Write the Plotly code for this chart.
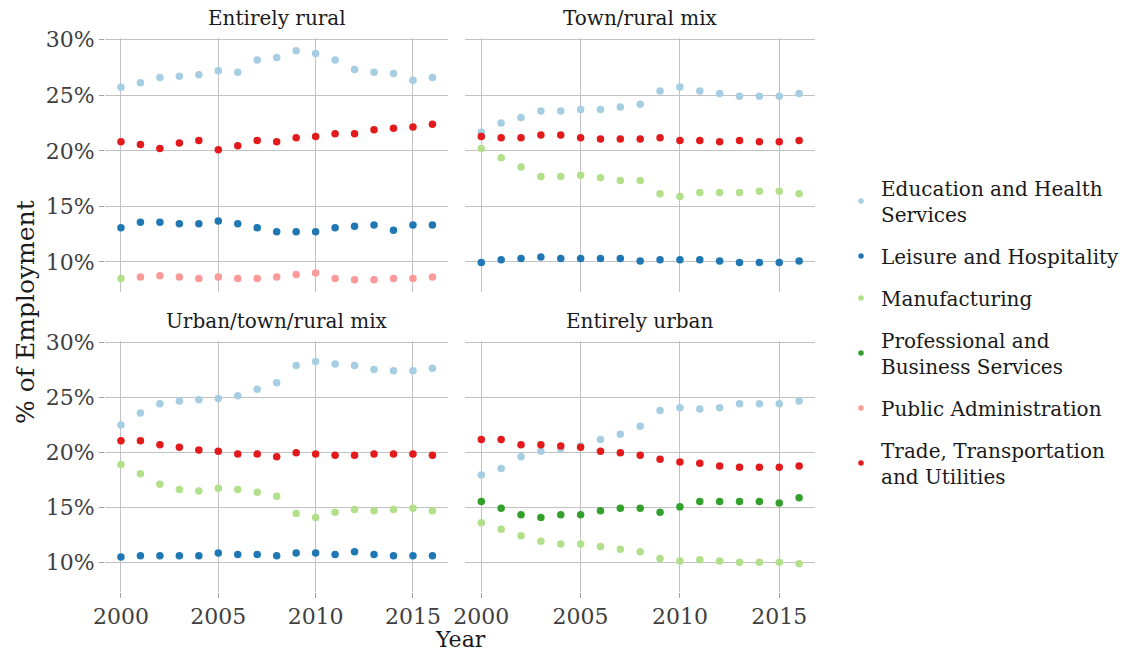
import plotly.graph_objects as go

years = list(range(2000, 2017))

# Share of employment (%) by industry and county type
rural_edu = [25.72, 26.12, 26.60, 26.72, 26.84, 27.20, 27.08, 28.16, 28.40, 29.00, 28.76, 28.16, 27.32, 27.08, 26.96, 26.36, 26.60]
rural_leisure = [13.09, 13.57, 13.57, 13.45, 13.45, 13.69, 13.45, 13.09, 12.73, 12.73, 12.73, 13.09, 13.21, 13.33, 12.85, 13.33, 13.33]
rural_manuf = [8.52] + [None] * 16
rural_public = [None, 8.64, 8.76, 8.64, 8.52, 8.64, 8.52, 8.52, 8.64, 8.88, 9.00, 8.52, 8.40, 8.40, 8.52, 8.52, 8.64]
rural_trade = [20.82, 20.58, 20.22, 20.70, 20.94, 20.10, 20.46, 20.94, 20.82, 21.18, 21.30, 21.54, 21.54, 21.90, 22.02, 22.14, 22.38]

town_edu = [21.66, 22.51, 22.99, 23.59, 23.59, 23.71, 23.71, 23.95, 24.19, 25.39, 25.75, 25.39, 25.15, 24.91, 24.91, 24.91, 25.15]
town_leisure = [9.96, 10.20, 10.32, 10.44, 10.32, 10.32, 10.32, 10.32, 10.08, 10.20, 10.20, 10.20, 10.08, 9.96, 9.96, 9.96, 10.08]
town_manuf = [20.22, 19.38, 18.54, 17.69, 17.69, 17.81, 17.57, 17.33, 17.33, 16.13, 15.89, 16.25, 16.25, 16.25, 16.37, 16.37, 16.13]
town_trade = [21.30, 21.18, 21.18, 21.42, 21.42, 21.18, 21.06, 21.06, 21.06, 21.18, 20.94, 20.94, 20.82, 20.94, 20.82, 20.82, 20.94]

mix_edu = [22.51, 23.59, 24.44, 24.68, 24.80, 24.92, 25.16, 25.76, 26.36, 27.92, 28.29, 28.05, 27.92, 27.56, 27.44, 27.44, 27.68]
mix_leisure = [10.48, 10.60, 10.60, 10.60, 10.60, 10.84, 10.72, 10.72, 10.60, 10.84, 10.84, 10.72, 10.96, 10.72, 10.60, 10.60, 10.60]
mix_manuf = [18.90, 18.06, 17.10, 16.62, 16.50, 16.74, 16.62, 16.38, 16.02, 14.45, 14.09, 14.57, 14.81, 14.69, 14.81, 14.93, 14.69]
mix_trade = [21.07, 21.07, 20.71, 20.47, 20.23, 20.11, 19.86, 19.86, 19.62, 19.98, 19.86, 19.74, 19.74, 19.86, 19.86, 19.86, 19.74]

urban_edu = [17.94, 18.54, 19.62, 20.11, 20.35, 20.59, 21.19, 21.67, 22.39, 23.83, 24.08, 23.95, 24.08, 24.44, 24.44, 24.44, 24.68]
urban_manuf = [13.61, 13.01, 12.41, 11.92, 11.68, 11.68, 11.44, 11.20, 10.96, 10.36, 10.12, 10.24, 10.12, 10.00, 10.00, 10.00, 9.88]
urban_prof = [15.53, 14.93, 14.33, 14.09, 14.33, 14.33, 14.69, 14.93, 14.93, 14.57, 15.05, 15.53, 15.53, 15.53, 15.53, 15.41, 15.89]
urban_trade = [21.19, 21.19, 20.71, 20.71, 20.59, 20.47, 20.11, 19.98, 19.74, 19.38, 19.14, 19.02, 18.78, 18.66, 18.66, 18.66, 18.78]

panel_titles = ["Entirely rural", "Town/rural mix", "Urban/town/rural mix", "Entirely urban"]
x_ticks = [2000, 2005, 2010, 2015]
y_ticks = [10, 15, 20, 25, 30]
y_tick_labels = ["10%", "15%", "20%", "25%", "30%"]

industries = [
    ("Education and Health<br>Services", "#a6cee3", [rural_edu, town_edu, mix_edu, urban_edu]),
    ("Leisure and Hospitality", "#1f78b4", [rural_leisure, town_leisure, mix_leisure, None]),
    ("Manufacturing", "#b2df8a", [rural_manuf, town_manuf, mix_manuf, urban_manuf]),
    ("Professional and<br>Business Services", "#33a02c", [None, None, None, urban_prof]),
    ("Public Administration", "#fb9a99", [rural_public, None, None, None]),
    ("Trade, Transportation<br>and Utilities", "#e31a1c", [rural_trade, town_trade, mix_trade, urban_trade]),
]

FONT = "DejaVu Serif"
W, H = 1138, 654

fig = go.Figure()

axis_ids = ["", "2", "3", "4"]
for name, color, series in industries:
    # legend key (small dot), kept apart from the plotted points
    fig.add_trace(go.Scatter(
        x=[None], y=[None], mode="markers",
        marker=dict(color=color, size=5.5, line=dict(width=0)),
        name=name, legendgroup=name, showlegend=True,
        hoverinfo="skip",
    ))
    for i, vals in enumerate(series):
        if vals is None:
            continue
        fig.add_trace(go.Scatter(
            x=years, y=vals, mode="markers",
            marker=dict(color=color, size=7.5, line=dict(width=0)),
            name=name, legendgroup=name, showlegend=False,
            xaxis="x" + axis_ids[i], yaxis="y" + axis_ids[i],
            hoverinfo="skip",
        ))

# panel geometry in pixels (left, right, top, bottom)
panels = [(105, 448, 38, 292), (465, 815, 38, 292),
          (105, 448, 341, 592), (465, 815, 341, 592)]

grid = "#c2c2c2"
tick_col = "#3f3f3f"
layout = {}
for i, (l, r, t, b) in enumerate(panels):
    sfx = axis_ids[i]
    bottom_row = i >= 2
    left_col = i % 2 == 0
    layout["xaxis" + sfx] = dict(
        domain=[l / W, r / W], range=[1999.18, 2016.8],
        anchor="y" + sfx, tickvals=x_ticks, automargin=False,
        showticklabels=bottom_row,
        ticks="outside" if bottom_row else "", ticklen=5, tickcolor="#a0a0a0",
        showgrid=True, gridcolor=grid, gridwidth=1.4,
        zeroline=False, showline=False,
        tickfont=dict(family=FONT, size=22, color=tick_col),
    )
    layout["yaxis" + sfx] = dict(
        domain=[1 - b / H, 1 - t / H], range=[7.3, 30.15],
        anchor="x" + sfx, tickvals=y_ticks, ticktext=y_tick_labels, automargin=False,
        showticklabels=left_col,
        ticks="outside" if left_col else "", ticklen=5, tickcolor="#a0a0a0",
        showgrid=True, gridcolor=grid, gridwidth=1.4,
        zeroline=False, showline=False,
        tickfont=dict(family=FONT, size=22, color=tick_col),
    )

annotations = []
for i, (l, r, t, b) in enumerate(panels):
    annotations.append(dict(
        text=panel_titles[i], x=(l + r) / 2 / W, y=1 - (t - 20) / H,
        xref="paper", yref="paper", showarrow=False,
        xanchor="center", yanchor="middle",
        font=dict(family=FONT, size=20, color="#1a1a1a"),
    ))
annotations.append(dict(
    text="Year", x=460 / W, y=1 - 639 / H, xref="paper", yref="paper",
    showarrow=False, xanchor="center", yanchor="middle",
    font=dict(family=FONT, size=22, color="#1a1a1a"),
))
annotations.append(dict(
    text="% of Employment", x=25 / W, y=1 - 312 / H, xref="paper", yref="paper",
    showarrow=False, xanchor="center", yanchor="middle", textangle=-90,
    font=dict(family=FONT, size=25, color="#1a1a1a"),
))

fig.update_layout(
    template="none",
    width=W, height=H, autosize=False,
    margin=dict(l=0, r=0, t=0, b=0, pad=0, autoexpand=False),
    paper_bgcolor="white", plot_bgcolor="white",
    annotations=annotations,
    legend=dict(
        x=841 / W, y=1 - 332 / H, xanchor="left", yanchor="middle",
        traceorder="grouped", tracegroupgap=13,
        font=dict(family=FONT, size=20, color="#1a1a1a"),
        bgcolor="rgba(0,0,0,0)", borderwidth=0,
    ),
    showlegend=True,
    **layout,
)

fig.write_html("out.html")
